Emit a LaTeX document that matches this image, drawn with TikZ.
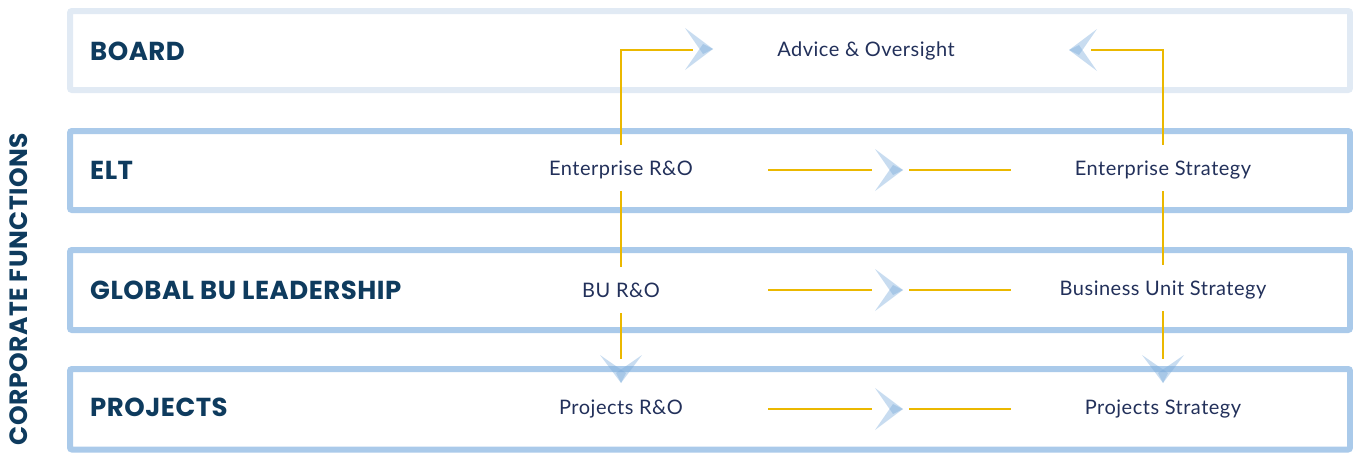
\documentclass[tikz,border=0pt]{standalone}
\usepackage{fontspec}
\setmainfont{Lato}[LetterSpace=2.5]
\newfontfamily\headfont{Poppins}[LetterSpace=2]
\definecolor{navy}{HTML}{0E3B5E}
\definecolor{txt}{HTML}{22305A}
\definecolor{boardline}{HTML}{E1EAF4}
\definecolor{rowline}{HTML}{AACAEA}
\definecolor{gold}{HTML}{EBB800}
\definecolor{chev}{RGB}{124,172,219}
\begin{document}
\begin{tikzpicture}[x=1pt,y=-1pt,
  frame/.style={line width=6pt, rounded corners=2pt},
  head/.style={anchor=west, font=\headfont\fontsize{26}{26}\selectfont\bfseries, text=navy, inner sep=0pt, text depth=0pt},
  lbl/.style={font=\fontsize{20}{20}\selectfont, text=txt, minimum height=46pt, text height=14pt, text depth=0pt, inner sep=0pt},
  yl/.style={draw=gold, line width=2.4pt},
  wing/.style={fill=chev, fill opacity=0.42},
  chevron/.pic={
    \fill[wing] (-28,-21) -- (0,0) -- (-10,5) -- cycle;
    \fill[wing] (-28,21) -- (0,0) -- (-10,-5) -- cycle;
  }
]
\useasboundingbox (0,0) rectangle (1353,453);

% row frames
\draw[frame, draw=boardline] (70,11) rectangle (1350,90);
\draw[frame, draw=rowline] (70,131) rectangle (1350,210);
\draw[frame, draw=rowline] (70,250) rectangle (1350,330);
\draw[frame, draw=rowline] (70,369) rectangle (1350,449.5);

% headings
\node[head] (board) at (90,51) {BOARD};
\node[head] (elt) at (90,170) {ELT};
\node[head] (gbu) at (90,290) {GLOBAL BU LEADERSHIP};
\node[head] (proj) at (90,407) {PROJECTS};
\node[head, font=\headfont\fontsize{25}{25}\selectfont\bfseries, anchor=center, rotate=90] (corp) at (18.5,289) {CORPORATE FUNCTIONS};

% labels
\node[lbl] (adv) at (866,49) {Advice \& Oversight};
\node[lbl] (ero) at (621,168) {Enterprise R\&O};
\node[lbl] (est) at (1163,168) {Enterprise Strategy};
\node[lbl] (bro) at (621,290) {BU R\&O};
\node[lbl] (bst) at (1163,288) {Business Unit Strategy};
\node[lbl] (pro) at (621,407) {Projects R\&O};
\node[lbl] (pst) at (1163,407) {Projects Strategy};

% top connectors to the board
\coordinate (tlend) at (693,50);
\coordinate (tl) at (713,49);
\draw[yl] (ero.north) |- (tlend);
\pic at (tl) {chevron};
\coordinate (trend) at (1091,50);
\coordinate (tr) at (1069,50);
\draw[yl] (est.north) |- (trend);
\pic[rotate=180] at (tr) {chevron};

% vertical links
\draw[yl] (ero.south) -- (bro.north);
\draw[yl] (est.south) -- (bst.north);
\coordinate (dlend) at (621,359);
\coordinate (dl) at (621,383);
\draw[yl] (bro.south) -- (dlend);
\pic[rotate=-90] at (dl) {chevron};
\coordinate (drend) at (1163,359);
\coordinate (dr) at (1163,383);
\draw[yl] (bst.south) -- (drend);
\pic[rotate=-90] at (dr) {chevron};

% horizontal links
\foreach \r/\y in {a/170, b/290, c/409}{
  \coordinate (h\r1) at (768,\y);
  \coordinate (h\r2) at (872,\y);
  \coordinate (h\r t) at (903,\y);
  \coordinate (h\r3) at (909,\y);
  \coordinate (h\r4) at (1011,\y);
  \draw[yl, line width=2.2pt] (h\r1) -- (h\r2);
  \pic at (h\r t) {chevron};
  \draw[yl, line width=2.2pt] (h\r3) -- (h\r4);
}
\end{tikzpicture}
\end{document}
